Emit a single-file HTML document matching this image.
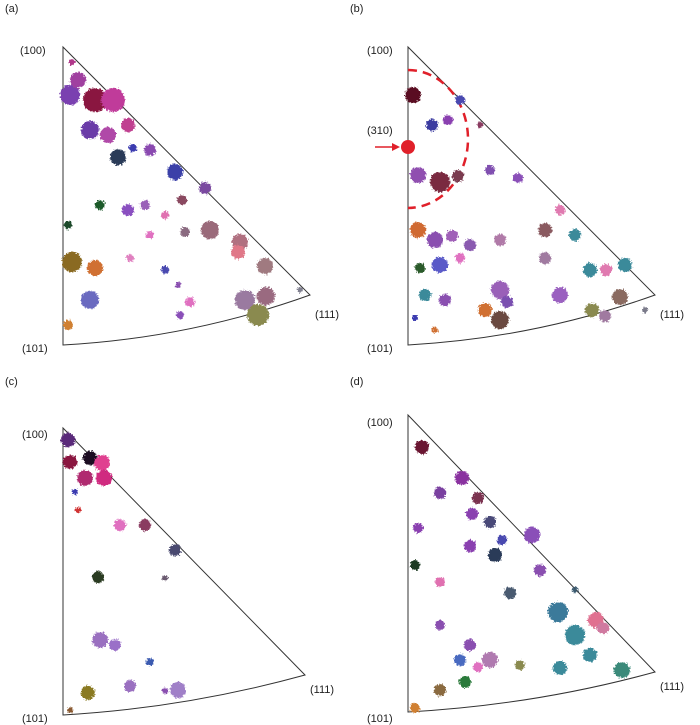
<!DOCTYPE html>
<html><head><meta charset="utf-8"><style>
html,body{margin:0;padding:0;background:#fff;}
svg{display:block;font-family:"Liberation Sans",sans-serif;}
text{font-size:11px;fill:#222;}
</style></head><body>
<svg width="700" height="725" viewBox="0 0 700 725" xmlns="http://www.w3.org/2000/svg">
<defs>
<filter id="rough" x="-20%" y="-20%" width="140%" height="140%">
<feTurbulence type="fractalNoise" baseFrequency="0.6" numOctaves="2" seed="3"/>
<feDisplacementMap in="SourceGraphic" scale="5" xChannelSelector="R" yChannelSelector="G"/>
</filter>
</defs>
<g fill="none" stroke="#333" stroke-width="1">
<path d="M63,47 L63,345 Q190,338 310,295 Z"/>
<path d="M408,47 L408,345 Q535,338 655,295 Z"/>
<path d="M63,428 L63,715 Q185,708 305,675 Z"/>
<path d="M408,415 L408,712 Q535,705 655,672 Z"/>
</g>
<text x="5" y="12">(a)</text><text x="350" y="12">(b)</text>
<text x="5" y="385">(c)</text><text x="350" y="385">(d)</text>
<text x="20" y="54">(100)</text><text x="22" y="352">(101)</text><text x="315" y="318">(111)</text>
<text x="367" y="54">(100)</text><text x="367" y="134">(310)</text><text x="367" y="352">(101)</text><text x="660" y="318">(111)</text>
<text x="22" y="438">(100)</text><text x="22" y="722">(101)</text><text x="310" y="693">(111)</text>
<text x="367" y="426">(100)</text><text x="367" y="722">(101)</text><text x="660" y="690">(111)</text>
<path d="M408,70 A60,69 0 0 1 408,208" fill="none" stroke="#e0202a" stroke-width="2.5" stroke-dasharray="9,6"/>
<circle cx="408" cy="147" r="7" fill="#e0202a"/>
<line x1="375" y1="147" x2="396" y2="147" stroke="#e0202a" stroke-width="1.5"/>
<path d="M400,147 L392,143 L392,151 Z" fill="#e0202a"/>
<g filter="url(#rough)">
<circle cx="72" cy="62" r="3" fill="#b0388a"/>
<circle cx="70" cy="95" r="10" fill="#7a3fb0"/>
<circle cx="78" cy="80" r="8" fill="#a040a0"/>
<circle cx="95" cy="100" r="12" fill="#8a1840"/>
<circle cx="113" cy="100" r="12" fill="#c03a9a"/>
<circle cx="90" cy="130" r="9" fill="#6a3aa8"/>
<circle cx="108" cy="135" r="8" fill="#b048a8"/>
<circle cx="128" cy="125" r="7" fill="#c04090"/>
<circle cx="133" cy="148" r="4" fill="#3a3ab0"/>
<circle cx="118" cy="157" r="8" fill="#2a3a58"/>
<circle cx="150" cy="150" r="6" fill="#8a4ab0"/>
<circle cx="175" cy="172" r="8" fill="#3a40a8"/>
<circle cx="100" cy="205" r="5" fill="#1a5a2a"/>
<circle cx="128" cy="210" r="6" fill="#8a50c0"/>
<circle cx="145" cy="205" r="5" fill="#9a60b8"/>
<circle cx="68" cy="225" r="4" fill="#1a4a2a"/>
<circle cx="165" cy="215" r="4" fill="#e070b0"/>
<circle cx="182" cy="200" r="5" fill="#8a4a60"/>
<circle cx="205" cy="188" r="6" fill="#7a4aa0"/>
<circle cx="210" cy="230" r="9" fill="#9a6a7a"/>
<circle cx="240" cy="242" r="8" fill="#b07080"/>
<circle cx="238" cy="252" r="7" fill="#e07888"/>
<circle cx="185" cy="232" r="5" fill="#8a6a80"/>
<circle cx="150" cy="235" r="4" fill="#e070c0"/>
<circle cx="72" cy="262" r="10" fill="#8a6a20"/>
<circle cx="95" cy="268" r="8" fill="#d07030"/>
<circle cx="130" cy="258" r="4" fill="#e080c0"/>
<circle cx="165" cy="270" r="4" fill="#4a4ab0"/>
<circle cx="178" cy="285" r="3" fill="#8a50b0"/>
<circle cx="90" cy="300" r="9" fill="#6a6ac0"/>
<circle cx="68" cy="325" r="5" fill="#d08030"/>
<circle cx="190" cy="302" r="5" fill="#e070c0"/>
<circle cx="180" cy="315" r="4" fill="#8a50b8"/>
<circle cx="245" cy="300" r="10" fill="#9a7aa0"/>
<circle cx="266" cy="296" r="9" fill="#9a6a80"/>
<circle cx="258" cy="315" r="11" fill="#8a8a50"/>
<circle cx="265" cy="266" r="8" fill="#a07a80"/>
<circle cx="300" cy="290" r="3" fill="#808090"/>
<circle cx="413" cy="95" r="8" fill="#5a1020"/>
<circle cx="432" cy="125" r="6" fill="#3a3aa0"/>
<circle cx="448" cy="120" r="5" fill="#8a40b0"/>
<circle cx="460" cy="100" r="5" fill="#4a4ab0"/>
<circle cx="418" cy="175" r="8" fill="#9050b0"/>
<circle cx="440" cy="182" r="10" fill="#7a2a40"/>
<circle cx="458" cy="176" r="6" fill="#7a3a50"/>
<circle cx="480" cy="125" r="3" fill="#8a3a60"/>
<circle cx="490" cy="170" r="5" fill="#8050b0"/>
<circle cx="518" cy="178" r="5" fill="#8a50b8"/>
<circle cx="418" cy="230" r="8" fill="#d06a30"/>
<circle cx="435" cy="240" r="8" fill="#8a50b0"/>
<circle cx="452" cy="236" r="6" fill="#a060b8"/>
<circle cx="470" cy="245" r="6" fill="#8a5ab0"/>
<circle cx="500" cy="240" r="6" fill="#b07aa8"/>
<circle cx="545" cy="230" r="7" fill="#8a5a60"/>
<circle cx="575" cy="235" r="6" fill="#3a8a9a"/>
<circle cx="560" cy="210" r="5" fill="#e07ab0"/>
<circle cx="440" cy="265" r="8" fill="#5a5ac8"/>
<circle cx="460" cy="258" r="5" fill="#e070c0"/>
<circle cx="420" cy="268" r="5" fill="#2a5a2a"/>
<circle cx="425" cy="295" r="6" fill="#3a8a9a"/>
<circle cx="445" cy="300" r="6" fill="#8a50b0"/>
<circle cx="500" cy="290" r="9" fill="#9a60b8"/>
<circle cx="507" cy="302" r="6" fill="#7a50b0"/>
<circle cx="485" cy="310" r="7" fill="#d07030"/>
<circle cx="500" cy="320" r="9" fill="#6a4a40"/>
<circle cx="545" cy="258" r="6" fill="#a07aa0"/>
<circle cx="560" cy="295" r="8" fill="#9a60c0"/>
<circle cx="590" cy="270" r="7" fill="#3a8a9a"/>
<circle cx="606" cy="270" r="6" fill="#e07ab0"/>
<circle cx="625" cy="265" r="7" fill="#3a8a9a"/>
<circle cx="620" cy="297" r="8" fill="#8a6a60"/>
<circle cx="592" cy="310" r="7" fill="#8a8a50"/>
<circle cx="605" cy="316" r="6" fill="#a07aa0"/>
<circle cx="645" cy="310" r="3" fill="#7a7a8a"/>
<circle cx="415" cy="318" r="3" fill="#3a3ab0"/>
<circle cx="435" cy="330" r="3" fill="#d07030"/>
<circle cx="68" cy="440" r="7" fill="#5a2a7a"/>
<circle cx="70" cy="462" r="7" fill="#8a1840"/>
<circle cx="90" cy="458" r="7" fill="#1a1020"/>
<circle cx="102" cy="463" r="8" fill="#e04090"/>
<circle cx="104" cy="478" r="8" fill="#d02a80"/>
<circle cx="85" cy="478" r="8" fill="#b02a70"/>
<circle cx="75" cy="492" r="3" fill="#3a3ab0"/>
<circle cx="78" cy="510" r="3" fill="#d03030"/>
<circle cx="120" cy="525" r="6" fill="#e070c0"/>
<circle cx="145" cy="525" r="6" fill="#8a3a60"/>
<circle cx="175" cy="550" r="6" fill="#4a4a70"/>
<circle cx="165" cy="578" r="3" fill="#6a5a70"/>
<circle cx="98" cy="577" r="6" fill="#2a3a20"/>
<circle cx="100" cy="640" r="8" fill="#9a70c0"/>
<circle cx="115" cy="645" r="6" fill="#9a70c8"/>
<circle cx="150" cy="662" r="4" fill="#3a5ab0"/>
<circle cx="130" cy="686" r="6" fill="#9a70c0"/>
<circle cx="178" cy="690" r="8" fill="#a080c8"/>
<circle cx="88" cy="693" r="7" fill="#8a7a20"/>
<circle cx="165" cy="691" r="3" fill="#8a50b0"/>
<circle cx="70" cy="710" r="3" fill="#8a5a30"/>
<circle cx="422" cy="447" r="7" fill="#6a1830"/>
<circle cx="440" cy="493" r="6" fill="#7a40a0"/>
<circle cx="462" cy="478" r="7" fill="#8a30a0"/>
<circle cx="478" cy="498" r="6" fill="#7a3050"/>
<circle cx="472" cy="514" r="6" fill="#8a40b0"/>
<circle cx="418" cy="528" r="5" fill="#8a40b0"/>
<circle cx="490" cy="522" r="6" fill="#4a4a78"/>
<circle cx="495" cy="555" r="7" fill="#2a3a58"/>
<circle cx="502" cy="540" r="5" fill="#4a4ab0"/>
<circle cx="532" cy="535" r="8" fill="#8a50b8"/>
<circle cx="470" cy="546" r="6" fill="#8a40b0"/>
<circle cx="540" cy="570" r="6" fill="#8a50b0"/>
<circle cx="415" cy="565" r="5" fill="#1a3a20"/>
<circle cx="440" cy="582" r="5" fill="#e070b0"/>
<circle cx="440" cy="625" r="5" fill="#8a50b0"/>
<circle cx="510" cy="593" r="6" fill="#4a5a70"/>
<circle cx="575" cy="590" r="3" fill="#3a5a70"/>
<circle cx="558" cy="612" r="10" fill="#3a7a9a"/>
<circle cx="575" cy="635" r="10" fill="#3a8a9a"/>
<circle cx="590" cy="655" r="7" fill="#3a8a9a"/>
<circle cx="596" cy="620" r="8" fill="#e07090"/>
<circle cx="603" cy="628" r="6" fill="#d07aa0"/>
<circle cx="470" cy="645" r="6" fill="#8a50b0"/>
<circle cx="460" cy="660" r="6" fill="#4a6ac0"/>
<circle cx="490" cy="660" r="8" fill="#b07ab0"/>
<circle cx="478" cy="667" r="5" fill="#e070c0"/>
<circle cx="465" cy="682" r="6" fill="#2a7a3a"/>
<circle cx="520" cy="665" r="5" fill="#8a8a50"/>
<circle cx="560" cy="668" r="7" fill="#3a8a9a"/>
<circle cx="622" cy="670" r="8" fill="#3a8a7a"/>
<circle cx="440" cy="690" r="6" fill="#8a6a40"/>
<circle cx="415" cy="708" r="5" fill="#d08030"/>
</g>
</svg>
</body></html>
